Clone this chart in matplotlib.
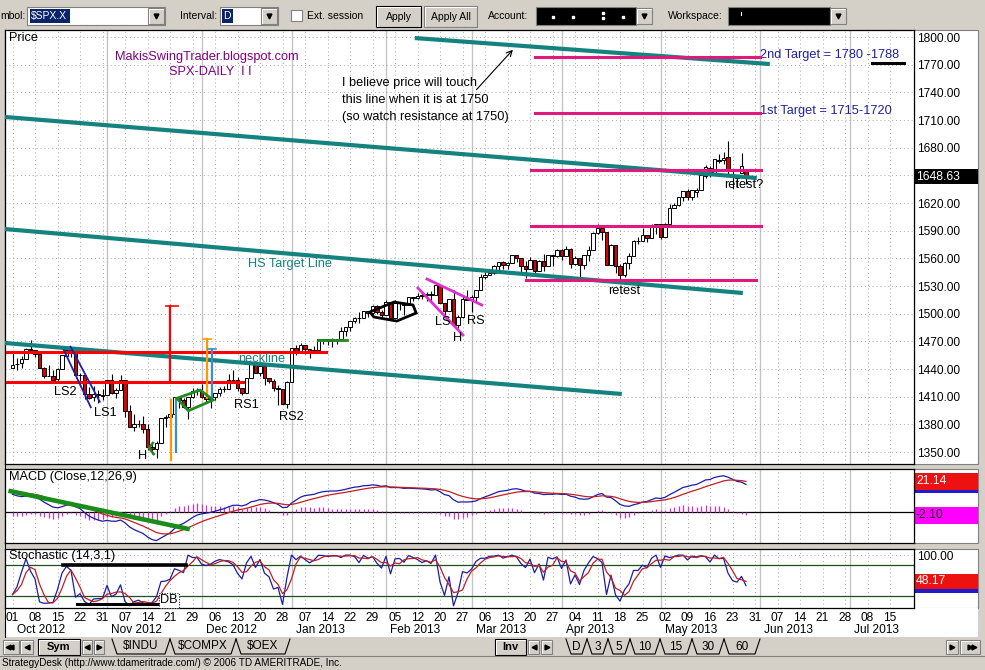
import numpy as np
import pandas as pd
import matplotlib
matplotlib.use("Agg")
import matplotlib.pyplot as plt
from matplotlib.patches import Rectangle, Polygon
from matplotlib import transforms

plt.rcParams['font.family'] = ['Liberation Sans', 'DejaVu Sans']

# ---- trading calendar (NYSE closed days in the window) ----
holidays = ['2012-10-29', '2012-10-30', '2012-11-22', '2012-12-25', '2013-01-01',
            '2013-01-21', '2013-02-18', '2013-03-29', '2013-05-27', '2013-07-04']
dates = pd.bdate_range('2012-10-01', '2013-07-15', freq='C', holidays=holidays)

# ---- SPX daily OHLC, Oct 1 2012 .. May 29 2013 ----
opens = [
    1440.9, 1445.0, 1446.1, 1451.1, 1461.4, 1460.9, 1455.9, 1441.5, 1432.8, 1432.8,
    1428.8, 1440.3, 1454.2, 1460.9, 1457.3, 1433.2, 1433.7, 1413.2, 1409.7, 1413.0,
    1411.0,
    1412.2, 1427.6, 1414.0, 1417.3, 1428.3, 1394.5, 1377.6, 1379.9, 1380.0, 1374.6,
    1355.4, 1353.4, 1359.9, 1386.8, 1387.8, 1391.0, 1409.0, 1406.3, 1398.8, 1410.0,
    1416.0,
    1416.3, 1409.5, 1407.1, 1409.4, 1414.0, 1418.1, 1418.6, 1427.8, 1428.5, 1419.5,
    1413.5, 1430.5, 1446.8, 1435.8, 1443.7, 1430.2, 1426.7, 1419.8, 1418.1, 1402.4,
    1426.2, 1462.4, 1459.4, 1466.5, 1461.9, 1457.2, 1461.0, 1472.1, 1472.1, 1470.7,
    1472.3, 1472.6, 1480.9, 1486.0, 1492.6, 1494.8, 1494.8, 1503.0, 1500.2, 1507.8,
    1502.0,
    1498.1, 1513.2, 1495.7, 1511.3, 1512.1, 1509.4, 1517.9, 1517.0, 1519.4, 1520.3,
    1521.4, 1519.8, 1530.9, 1512.0, 1502.4, 1515.6, 1487.9, 1496.9, 1516.0,
    1514.7, 1518.2, 1525.2, 1539.8, 1541.5, 1544.3, 1551.2, 1556.2, 1552.5, 1554.5,
    1563.2, 1560.7, 1552.1, 1548.3, 1558.7, 1545.8, 1556.9, 1551.7, 1563.8, 1562.9,
    1569.2, 1562.2, 1570.3, 1553.7, 1560.0, 1553.3, 1563.1, 1568.6, 1587.7, 1593.3,
    1588.8, 1552.4, 1574.6, 1552.0, 1541.6, 1555.3, 1562.5, 1578.8, 1578.8, 1585.2,
    1582.3, 1593.6,
    1597.6, 1582.8, 1597.6, 1614.4, 1617.6, 1626.0, 1632.7, 1626.7, 1632.1, 1633.8,
    1649.1, 1658.1, 1652.5, 1665.7, 1666.2, 1669.4, 1651.6, 1646.7, 1652.6, 1656.6]
highs = [
    1457.1, 1451.5, 1454.3, 1463.1, 1471.0, 1460.9, 1455.9, 1442.5, 1443.9, 1438.4,
    1441.3, 1455.5, 1462.2, 1464.0, 1457.3, 1435.5, 1433.7, 1420.0, 1421.1, 1417.1,
    1418.8,
    1428.4, 1434.3, 1419.9, 1433.4, 1428.3, 1401.2, 1391.4, 1384.9, 1388.8, 1380.1,
    1360.6, 1362.0, 1386.9, 1389.8, 1391.3, 1409.2, 1409.0, 1409.0, 1410.0, 1419.7,
    1418.9,
    1423.7, 1413.1, 1415.6, 1414.0, 1420.3, 1421.6, 1434.3, 1438.6, 1431.4, 1419.5,
    1430.7, 1448.0, 1447.8, 1443.7, 1443.7, 1430.2, 1429.4, 1422.7, 1418.1, 1426.7,
    1462.4, 1465.5, 1467.9, 1466.5, 1461.9, 1464.7, 1472.3, 1472.8, 1472.1, 1473.3,
    1473.0, 1485.2, 1486.0, 1492.6, 1496.1, 1502.3, 1503.3, 1503.2, 1509.3, 1509.9,
    1504.2,
    1514.4, 1513.2, 1514.9, 1512.5, 1512.9, 1518.3, 1518.3, 1522.3, 1524.7, 1523.1,
    1524.2, 1530.9, 1530.9, 1512.0, 1515.6, 1525.8, 1498.9, 1520.1, 1525.3,
    1520.0, 1525.3, 1543.5, 1545.3, 1545.8, 1552.5, 1556.3, 1556.8, 1556.4, 1563.3,
    1563.6, 1560.7, 1557.3, 1561.6, 1558.7, 1557.7, 1564.9, 1564.0, 1564.1, 1570.3,
    1570.6, 1573.7, 1571.5, 1562.6, 1560.0, 1563.1, 1573.9, 1589.1, 1597.4, 1593.3,
    1588.8, 1575.4, 1574.6, 1554.4, 1555.9, 1565.6, 1579.6, 1583.0, 1592.6, 1585.8,
    1596.7, 1597.6,
    1597.6, 1598.6, 1618.5, 1619.8, 1626.0, 1632.8, 1635.0, 1633.7, 1636.0, 1651.1,
    1661.5, 1660.5, 1667.5, 1672.8, 1674.9, 1687.2, 1655.5, 1649.8, 1674.2, 1656.6]
lows = [
    1440.9, 1439.0, 1441.0, 1451.0, 1456.9, 1453.1, 1441.2, 1430.6, 1432.1, 1425.5,
    1427.2, 1440.3, 1453.4, 1452.6, 1429.9, 1422.1, 1407.6, 1407.1, 1405.1, 1403.3,
    1406.0,
    1412.2, 1412.9, 1408.1, 1417.3, 1388.1, 1377.5, 1373.0, 1377.2, 1370.8, 1352.5,
    1348.1, 1343.4, 1359.9, 1377.0, 1386.4, 1391.0, 1397.7, 1398.0, 1385.4, 1409.0,
    1411.6,
    1408.5, 1403.6, 1398.2, 1405.9, 1410.9, 1415.6, 1418.6, 1426.8, 1416.0, 1411.9,
    1413.5, 1430.5, 1435.8, 1432.8, 1422.6, 1424.7, 1416.4, 1401.1, 1401.6, 1398.1,
    1426.2, 1455.5, 1458.0, 1456.6, 1451.6, 1457.2, 1461.0, 1467.6, 1465.7, 1463.8,
    1467.0, 1472.6, 1475.8, 1481.2, 1489.9, 1489.5, 1494.8, 1496.3, 1498.1, 1500.1,
    1496.8,
    1498.1, 1495.0, 1495.7, 1504.0, 1498.5, 1509.4, 1513.6, 1515.6, 1515.6, 1514.0,
    1514.1, 1519.8, 1511.4, 1498.0, 1502.4, 1487.9, 1485.0, 1494.9, 1514.7,
    1501.5, 1512.3, 1525.2, 1538.1, 1541.5, 1542.9, 1547.4, 1548.2, 1548.3, 1554.5,
    1555.7, 1545.1, 1538.6, 1548.3, 1543.6, 1545.8, 1546.2, 1551.7, 1551.5, 1561.1,
    1558.5, 1562.2, 1549.8, 1552.5, 1539.5, 1548.6, 1557.0, 1568.6, 1586.2, 1580.0,
    1552.3, 1552.4, 1543.7, 1536.0, 1539.4, 1548.2, 1562.5, 1575.8, 1578.8, 1577.6,
    1582.3, 1586.5,
    1581.3, 1582.8, 1597.6, 1614.2, 1616.6, 1622.7, 1623.1, 1623.7, 1626.7, 1633.8,
    1646.7, 1648.6, 1652.5, 1663.5, 1662.7, 1648.9, 1635.5, 1636.9, 1652.6, 1640.1]
closes = [
    1444.5, 1445.8, 1451.0, 1461.4, 1460.9, 1455.9, 1441.5, 1432.6, 1432.8, 1428.6,
    1440.1, 1454.9, 1460.9, 1457.3, 1433.2, 1433.8, 1413.1, 1408.8, 1413.0, 1411.9,
    1412.2,
    1427.6, 1414.2, 1417.3, 1428.4, 1394.5, 1377.5, 1379.9, 1380.0, 1374.5, 1355.5,
    1353.3, 1359.9, 1386.9, 1387.8, 1391.0, 1409.2, 1406.3, 1398.9, 1409.9, 1416.0,
    1416.2,
    1409.5, 1407.1, 1409.3, 1413.9, 1418.1, 1418.6, 1427.8, 1428.5, 1419.5, 1413.6,
    1430.4, 1446.8, 1435.8, 1443.7, 1430.2, 1426.7, 1419.8, 1418.1, 1402.4, 1426.2,
    1462.4, 1459.4, 1466.5, 1461.9, 1457.2, 1461.0, 1472.1, 1472.1, 1470.7, 1472.3,
    1472.6, 1480.9, 1486.0, 1492.6, 1494.8, 1494.8, 1503.0, 1500.2, 1507.8, 1502.0,
    1498.1,
    1513.2, 1495.7, 1511.3, 1512.1, 1509.4, 1517.9, 1517.0, 1519.4, 1520.3, 1521.4,
    1519.8, 1530.9, 1512.0, 1502.4, 1515.6, 1487.9, 1496.9, 1516.0, 1514.7,
    1518.2, 1525.2, 1539.8, 1541.5, 1544.3, 1551.2, 1556.2, 1552.5, 1554.5, 1563.2,
    1560.7, 1552.1, 1548.3, 1558.7, 1545.8, 1556.9, 1551.7, 1563.8, 1562.9, 1569.2,
    1562.2, 1570.3, 1553.7, 1560.0, 1553.3, 1563.1, 1568.6, 1587.7, 1593.4, 1588.9,
    1552.4, 1574.6, 1552.0, 1541.6, 1555.3, 1562.5, 1578.8, 1578.8, 1585.2, 1582.2,
    1593.6, 1597.6,
    1582.7, 1597.6, 1614.4, 1617.5, 1626.0, 1632.7, 1626.7, 1633.7, 1633.8, 1650.3,
    1658.8, 1650.5, 1667.5, 1666.3, 1669.2, 1655.4, 1650.5, 1649.6, 1660.1, 1648.6]

last_price = 1648.63
macd_label, hist_label = 21.14, -2.10
stoch_label = 48.17
# EMA state carried in from September 2012
ema12_seed, ema26_seed, signal_seed = 1448.0, 1434.5, 15.5

# ---- indicators ----
c = np.array(closes)
def ema(values, span, seed):
    a = 2.0 / (span + 1)
    out, e = [], seed
    for v in values:
        e = e + a * (v - e)
        out.append(e)
    return np.array(out)

macd = ema(c, 12, ema12_seed) - ema(c, 26, ema26_seed)
signal = ema(macd, 9, signal_seed)
hist = macd - signal
hh = pd.Series(highs).rolling(14, min_periods=1).max().values
ll = pd.Series(lows).rolling(14, min_periods=1).min().values
k_fast = 100 * (c - ll) / (hh - ll)
k_slow = pd.Series(k_fast).rolling(3, min_periods=1).mean().values

n = len(closes)
x = np.arange(n)
ticks = np.arange(0, len(dates), 5)
month_starts = [0] + [i for i in range(1, len(dates)) if dates[i].month != dates[i - 1].month]

# ---- figure & window chrome ----
W, H = 985, 670
gray = '#d4d0c8'
fig = plt.figure(figsize=(9.85, 6.70), dpi=100)
fig.patch.set_facecolor(gray)
ui = fig.add_axes([0, 0, 1, 1])
ui.set_xlim(0, W)
ui.set_ylim(H, 0)
ui.axis('off')

def px_axes(x0, y0, x1, y1):
    return fig.add_axes([x0 / W, 1 - y1 / H, (x1 - x0) / W, (y1 - y0) / H])

# white right-hand value columns and date strip
for (y0, y1) in [(30, 464), (469, 543), (549, 608)]:
    ui.add_patch(Rectangle((914, y0), 64, y1 - y0, fc='white', ec='#808080', lw=0.8))
ui.add_patch(Rectangle((5, 608), 973, 29, fc='white', ec='none'))
ui.plot([5, 5], [30, 637], color='black', lw=0.8)

def button(x0, y0, w, h, text=None, bold=False, edge='#808080', fs=8):
    ui.add_patch(Rectangle((x0, y0), w, h, fc=gray, ec=edge, lw=0.8))
    ui.plot([x0 + 1, x0 + 1, x0 + w - 1], [y0 + h - 1, y0 + 1, y0 + 1], color='white', lw=0.7)
    if text:
        ui.text(x0 + w / 2, y0 + h / 2, text, ha='center', va='center', fontsize=fs,
                fontweight='bold' if bold else 'normal')

def arrow_btn(x0, y0, w, h, marker):
    button(x0, y0, w, h)
    ui.plot(x0 + w / 2, y0 + h / 2, marker=marker, ms=3.5, color='black')

# top toolbar
ui.text(0, 16, 'mbol:', fontsize=7.5, va='center')
ui.add_patch(Rectangle((27, 7), 138, 18, fc='white', ec='#7f7f7f', lw=0.8))
ui.add_patch(Rectangle((30, 9), 40, 14, fc='#0a246a', ec='none'))
ui.text(31, 16, '$SPX.X', color='white', fontsize=7.5, va='center')
arrow_btn(148, 8, 16, 16, 'v')
ui.text(180, 16, 'Interval:', fontsize=7.5, va='center')
ui.add_patch(Rectangle((220, 7), 58, 18, fc='white', ec='#7f7f7f', lw=0.8))
ui.add_patch(Rectangle((222, 9), 11, 14, fc='#0a246a', ec='none'))
ui.text(223, 16, 'D', color='white', fontsize=7.5, va='center')
arrow_btn(261, 8, 16, 16, 'v')
ui.add_patch(Rectangle((291, 10), 11, 11, fc='white', ec='#808080', lw=0.8))
ui.text(307, 16, 'Ext. session', fontsize=7.5, va='center')
button(376, 6, 45, 21, 'Apply', edge='black', fs=7.5)
button(424, 6, 53, 21, 'Apply All', fs=7.5)
ui.text(488, 16, 'Account:', fontsize=7.5, va='center')
ui.add_patch(Rectangle((536, 7), 100, 18, fc='black', ec='#7f7f7f', lw=0.8))
ui.plot([553, 573, 603, 603, 623], [17, 17, 13, 18, 17], 's', ms=1.8, color='white')
arrow_btn(636, 8, 16, 16, 'v')
ui.text(668, 16, 'Workspace:', fontsize=7.5, va='center')
ui.add_patch(Rectangle((728, 7), 102, 18, fc='black', ec='#7f7f7f', lw=0.8))
ui.plot([741, 741], [12, 15], color='white', lw=0.8)
arrow_btn(830, 8, 16, 16, 'v')

# bottom tab bar
arrow_btn(3, 640, 16, 14, '<')
ui.plot(8, 647, marker='<', ms=3.5, color='black')
arrow_btn(20, 640, 13, 14, '<')
button(38, 639, 42, 16, 'Sym', bold=True, edge='black')
arrow_btn(82, 640, 10, 14, '<')
arrow_btn(94, 640, 10, 14, '>')

def tab_row(edges, labels):
    for (a, b), lab in zip(zip(edges[:-1], edges[1:]), labels):
        ui.plot([a, a + 5, b - 5, b], [639, 654, 654, 639], color='black', lw=0.8)
        ui.text((a + b) / 2, 646.5, lab, ha='center', va='center', fontsize=8.5)

tab_row([112, 170, 236, 290], ['$INDU', '$COMPX', '$OEX'])
button(495, 639, 31, 16, 'Inv', bold=True, edge='black')
arrow_btn(528, 640, 11, 14, '<')
arrow_btn(541, 640, 11, 14, '>')
tab_row([566, 587, 608, 630, 660, 692, 724, 760], ['D', '3', '5', '10', '15', '30', '60'])
arrow_btn(946, 640, 12, 14, '>')
arrow_btn(960, 640, 20, 14, '>')
ui.plot(974, 647, marker='>', ms=3.5, color='black')
ui.plot([0, W], [656, 656], color='#808080', lw=0.8)
ui.text(2, 663, 'StrategyDesk (http://www.tdameritrade.com/) \u00a9 2006 TD AMERITRADE, Inc.',
        fontsize=7.2, va='center')

# ---- chart panels ----
ax_p = px_axes(5, 30, 914, 464)
ax_m = px_axes(5, 469, 914, 543)
ax_s = px_axes(5, 549, 914, 608)
xmin, xmax = (5 - 12.5) / 4.5, (914 - 12.5) / 4.5

for ax in (ax_p, ax_m, ax_s):
    ax.set_xlim(xmin, xmax)
    ax.set_facecolor('white')
    for s in ax.spines.values():
        s.set_color('black')
        s.set_linewidth(0.9)
    for t in ticks:
        ax.axvline(t, color='#a8a8a8', lw=0.7, ls=(0, (1, 3)), zorder=0)
    for m in month_starts[1:]:
        ax.axvline(m, color='#c4c4c4', lw=1.0, zorder=0)
    ax.tick_params(axis='x', bottom=False, labelbottom=False)

# price panel
ax_p.set_ylim(1337.0, 1807.6)
levels = np.arange(1350, 1801, 30)
for lv in levels:
    ax_p.axhline(lv, color='#a8a8a8', lw=0.7, ls=(0, (1, 3)), zorder=0)
ax_p.yaxis.tick_right()
ax_p.set_yticks(levels)
ax_p.set_yticklabels(['' if lv == 1650 else f'{lv:.2f}' for lv in levels])
ax_p.tick_params(axis='y', length=0, pad=2, labelsize=8.6)

o = np.array(opens)
up = c >= o
ax_p.vlines(x, lows, highs, color='black', lw=0.8, zorder=2)
ax_p.bar(x, c - o, bottom=o, width=0.8,
         color=np.where(up, 'white', '#dd0000'), edgecolor='black', linewidth=0.7, zorder=3)

# hand drawn study lines
teal = '#14827f'
pink = '#e3187f'
for (x0, y0), (x1, y1) in [((89.4, 1798.9), (168.3, 1770.7)), ((-1.7, 1713.3), (165.4, 1647.1)),
                           ((-1.7, 1591.8), (162.3, 1522.4)), ((-1.7, 1468.2), (135.4, 1412.9))]:
    ax_p.plot([x0, x1], [y0, y1], color=teal, lw=3.0, solid_capstyle='butt', zorder=4)
for y, (x0, x1) in [(1777.8, (116.1, 166.1)), (1717.6, (116.1, 166.1)), (1655.8, (115.2, 166.3)),
                    (1595.6, (115.2, 166.3)), (1536.5, (114.1, 165.2))]:
    ax_p.plot([x0, x1], [y, y], color=pink, lw=2.2, zorder=4)
ax_p.plot([90.1, 100.1], [1527.8, 1476.9], color='#e030d0', lw=2.0, zorder=4)
ax_p.plot([92.1, 104.3], [1537.6, 1509.4], color='#e030d0', lw=2.0, zorder=4)
ax_p.plot([-1.2, 69.7], [1458.8, 1458.8], color='red', lw=2.2, zorder=4)
ax_p.plot([-1.2, 51.2], [1426.2, 1426.2], color='red', lw=2.2, zorder=4)
ax_p.plot([35.0, 35.0], [1508.3, 1426.2], color='red', lw=1.6, zorder=4)
ax_p.plot([34.1, 36.8], [1508.3, 1508.3], color='red', lw=1.2, zorder=4)
ax_p.plot([43.2, 43.2], [1472.5, 1408.5], color='#ff9900', lw=1.6, zorder=4)
ax_p.plot([42.4, 44.2], [1472.5, 1472.5], color='#ff9900', lw=1.2, zorder=4)
ax_p.plot([35.2, 35.2], [1406.4, 1341.3], color='#ff9900', lw=1.6, zorder=4)
ax_p.plot([36.3, 36.3], [1406.4, 1350.0], color='#3c8cd2', lw=1.6, zorder=4)
ax_p.plot([44.3, 44.3], [1461.7, 1406.4], color='#3c8cd2', lw=1.6, zorder=4)
ax_p.plot([43.4, 45.2], [1461.7, 1461.7], color='#3c8cd2', lw=1.2, zorder=4)
ax_p.add_patch(Polygon([(36.5, 1408.2), (41.7, 1417.2), (44.6, 1406.4), (39.1, 1394.8)],
                       closed=True, fill=False, ec='#1f8c1f', lw=2.0, zorder=4))
ax_p.plot([31.2, 30.3, 31.4], [1359.8, 1354.3, 1347.8], color='#1f8c1f', lw=1.8, zorder=4)
ax_p.plot([67.9, 74.3], [1471.4, 1471.4], color='#1f8c1f', lw=2.0, zorder=4)
ax_p.plot([11.4, 17.4], [1460.6, 1398.5], color='#2020b0', lw=1.3, zorder=4)
ax_p.plot([12.9, 19.4], [1464.2, 1404.5], color='#2020b0', lw=1.3, zorder=4)
ax_p.add_patch(Polygon([(79.4, 1501.8), (84.8, 1512.6), (89.0, 1509.4), (89.7, 1500.7),
                        (85.4, 1492.0), (80.3, 1496.4)], closed=True, fill=False,
                       ec='black', lw=2.0, zorder=4))
ax_p.plot([190.9, 198.1], [1771.8, 1771.8], color='black', lw=2.2, zorder=4)
ax_p.annotate('', xy=(111.2, 1786.2), xytext=(103.1, 1742.9),
              arrowprops=dict(arrowstyle='->', lw=0.8, color='black', shrinkA=0, shrinkB=0))

fs = 9.2
ax_p.text(0.004, 0.995, 'Price', transform=ax_p.transAxes, va='top', fontsize=fs)
ax_p.text(43.2, 1778.3, 'MakisSwingTrader.blogspot.com', color='#800080', ha='center', va='center', fontsize=fs)
ax_p.text(43.9, 1762.0, 'SPX-DAILY  I I', color='#800080', ha='center', va='center', fontsize=fs)
for y, s in [(1749.6, 'I believe price will touch'), (1731.7, 'this line when it is at 1750'),
             (1713.8, '(so watch resistance at 1750)')]:
    ax_p.text(73.3, y, s, va='center', fontsize=fs)
ax_p.text(166.1, 1780.8, '2nd Target = 1780 -1788', color='#2020a0', va='center', fontsize=fs)
ax_p.text(166.1, 1719.4, '1st Target = 1715-1720', color='#2020a0', va='center', fontsize=fs)
for (tx, ty, s, col) in [(11.7, 1415.0, 'LS2', 'black'), (20.6, 1392.3, 'LS1', 'black'),
                         (29.0, 1345.7, 'H', 'black'), (51.9, 1400.9, 'RS1', 'black'),
                         (61.9, 1387.9, 'RS2', 'black'), (55.4, 1450.8, 'neckline', teal),
                         (61.7, 1554.0, 'HS Target Line', teal), (95.7, 1491.0, 'LS', 'black'),
                         (103.0, 1492.1, 'RS', 'black'), (99.0, 1473.6, 'H', 'black'),
                         (135.9, 1524.6, 'retest', 'black'), (162.6, 1639.5, 'retest?', 'black')]:
    ax_p.text(tx, ty, s, color=col, ha='center', va='center', fontsize=fs, zorder=5)

# MACD panel
ax_m.set_ylim(-21.4, 29.7)
ax_m.set_yticks([])
ax_m.axhline(0, color='black', lw=0.9, zorder=1)
ax_m.vlines(x, 0, hist, color='#cc33cc', lw=0.9, zorder=1)
ax_m.plot(x, macd, color='#1c1caa', lw=0.9, zorder=2)
ax_m.plot(x, signal, color='#c02020', lw=0.9, zorder=2)
ax_m.plot([-0.9, 39.4], [14.7, -11.9], color='#1a8c1a', lw=3.3, solid_capstyle='butt', zorder=3)
ax_m.text(0.004, 0.97, 'MACD (Close,12,26,9)', transform=ax_m.transAxes, va='top', fontsize=fs)

# Stochastic panel
ax_s.set_ylim(-4.3, 112.0)
ax_s.axhline(100, color='#a8a8a8', lw=0.7, ls=(0, (1, 3)), zorder=0)
ax_s.axhline(80, color='#1f4f1f', lw=0.9, zorder=1)
ax_s.axhline(20, color='#1f4f1f', lw=0.9, zorder=1)
ax_s.plot(x, k_fast, color='#1c1caa', lw=0.9, zorder=2)
ax_s.plot(x, k_slow, color='#c02020', lw=0.9, zorder=2)
ax_s.plot([11.3, 38.6], [80, 80], color='black', lw=2.6, zorder=3)
ax_s.plot([14.4, 32.4], [3.6, 3.6], color='black', lw=2.2, zorder=3)
ax_s.text(32.8, 11.0, 'DB', va='center', fontsize=fs, zorder=4,
          bbox=dict(boxstyle='square,pad=0.1', fc='white', ec='black', ls=':', lw=0.7))
ax_s.text(0.004, 0.98, 'Stochastic (14,3,1)', transform=ax_s.transAxes, va='top', fontsize=fs)
ax_s.yaxis.tick_right()
ax_s.set_yticks([100])
ax_s.set_yticklabels(['100.00'])
ax_s.tick_params(axis='y', length=0, pad=2, labelsize=8.6)
ax_s.set_xticks(ticks)
ax_s.set_xticklabels([d.strftime('%d') for d in dates[ticks]])
ax_s.tick_params(axis='x', bottom=False, labelbottom=True, length=0, pad=3, labelsize=8.6)
mtrans = transforms.blended_transform_factory(ax_s.transData, ax_s.transAxes)
for m in month_starts:
    ax_s.text(m + 0.9, -0.37, dates[m].strftime('%b %Y'), transform=mtrans,
              va='center', ha='left', fontsize=8.6, clip_on=False)

# value boxes in the right column
def ypix(ax, v):
    return H - ax.transData.transform((0, v))[1]

def value_box(ax, v, text, fc, tc, h=17):
    y = ypix(ax, v)
    ui.add_patch(Rectangle((915, y - h / 2), 63, h, fc=fc, ec='none', zorder=3))
    if text:
        ui.text(916, y, text, color=tc, va='center', ha='left', fontsize=8.8, zorder=4)

value_box(ax_p, last_price, f'{last_price:.2f}', 'black', 'white', h=15)
value_box(ax_m, macd_label + hist_label, None, '#1c1cc8', 'white')
value_box(ax_m, macd_label, f'{macd_label:.2f}', '#ee1111', 'white')
value_box(ax_m, hist_label, f'{hist_label:.2f}', '#ff00ff', '#202020')
value_box(ax_s, k_fast[-1], None, '#1c1cc8', 'white', h=15)
value_box(ax_s, stoch_label, f'{stoch_label:.2f}', '#ee1111', 'white', h=15)

fig.savefig('out.png', dpi=100)
